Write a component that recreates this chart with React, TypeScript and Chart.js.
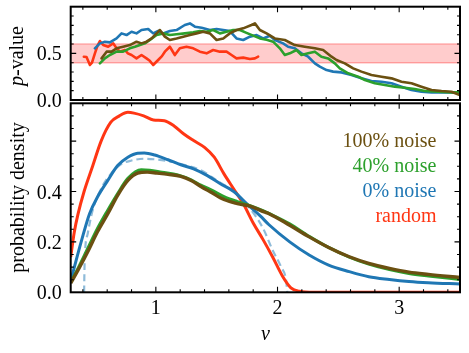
import React, { useEffect, useRef } from "react";
import { Chart, registerables } from "chart.js";

Chart.register(...registerables);

const FONT = '"Liberation Serif", "Times New Roman", serif';

// ---------- axes ----------
const NU_MIN = 0.3;
const NU_MAX = 3.5;
const PVAL_MAX = 1.0;
const DENS_MAX = 0.75;
const NU_TICK_LABELS = [1, 2, 3];
const PVAL_TICK_LABELS = [0, 0.5];
const DENS_TICK_LABELS = [0, 0.2, 0.4];
const BAND = [0.4, 0.6];
const LEGEND_LABELS = ["100% noise", "40% noise", "0% noise", "random"];

// ---------- top panel: p-value ----------
const pNuRandom = [0.408, 0.43, 0.458, 0.475, 0.499, 0.52, 0.54, 0.567, 0.608, 0.649, 0.68, 0.704, 0.745, 0.77, 0.8, 0.841, 0.882, 0.923, 0.95, 0.978, 1.019, 1.05, 1.074, 1.115, 1.156, 1.197, 1.252, 1.307, 1.362, 1.417, 1.471, 1.526, 1.581, 1.622, 1.663, 1.718, 1.773, 1.814, 1.841];
const pValRandom = [0.464, 0.46, 0.375, 0.4, 0.5, 0.58, 0.632, 0.589, 0.571, 0.607, 0.55, 0.518, 0.536, 0.5, 0.482, 0.446, 0.482, 0.446, 0.42, 0.375, 0.429, 0.47, 0.518, 0.571, 0.482, 0.554, 0.571, 0.554, 0.518, 0.5, 0.536, 0.518, 0.518, 0.482, 0.446, 0.454, 0.44, 0.446, 0.464];

const pNuZero = [0.499, 0.54, 0.581, 0.622, 0.677, 0.718, 0.759, 0.8, 0.841, 0.882, 0.937, 0.978, 1.019, 1.06, 1.115, 1.17, 1.238, 1.28, 1.321, 1.376, 1.444, 1.499, 1.554, 1.608, 1.663, 1.718, 1.773, 1.828, 1.882, 1.937, 1.978, 2.046, 2.087, 2.142, 2.197, 2.252, 2.307, 2.348, 2.403, 2.457, 2.526, 2.608, 2.69, 2.772, 2.855, 2.937, 3.019, 3.101, 3.183, 3.266, 3.348, 3.43, 3.5];
const pValZero = [0.554, 0.607, 0.625, 0.618, 0.66, 0.714, 0.696, 0.732, 0.714, 0.75, 0.761, 0.714, 0.739, 0.714, 0.739, 0.75, 0.804, 0.821, 0.786, 0.775, 0.75, 0.761, 0.75, 0.739, 0.66, 0.643, 0.679, 0.696, 0.66, 0.689, 0.643, 0.607, 0.571, 0.554, 0.5, 0.464, 0.393, 0.357, 0.321, 0.304, 0.296, 0.268, 0.232, 0.204, 0.196, 0.179, 0.143, 0.107, 0.089, 0.082, 0.082, 0.082, 0.075];

const pNuForty = [0.54, 0.581, 0.622, 0.677, 0.731, 0.786, 0.828, 0.869, 0.91, 0.951, 1.006, 1.06, 1.115, 1.17, 1.238, 1.307, 1.362, 1.417, 1.471, 1.526, 1.581, 1.636, 1.691, 1.745, 1.8, 1.855, 1.91, 1.964, 2.019, 2.06, 2.101, 2.156, 2.197, 2.252, 2.307, 2.361, 2.416, 2.471, 2.512, 2.581, 2.663, 2.718, 2.8, 2.882, 2.964, 3.046, 3.128, 3.211, 3.32, 3.43, 3.5];
const pValForty = [0.393, 0.446, 0.482, 0.518, 0.518, 0.554, 0.571, 0.589, 0.607, 0.643, 0.696, 0.714, 0.696, 0.704, 0.714, 0.725, 0.739, 0.732, 0.75, 0.714, 0.732, 0.75, 0.75, 0.72, 0.69, 0.66, 0.645, 0.625, 0.554, 0.482, 0.5, 0.536, 0.482, 0.5, 0.518, 0.464, 0.446, 0.393, 0.339, 0.286, 0.25, 0.214, 0.179, 0.161, 0.143, 0.132, 0.118, 0.096, 0.089, 0.082, 0.082];

const pNuHundred = [0.554, 0.595, 0.636, 0.677, 0.731, 0.786, 0.841, 0.882, 0.923, 0.965, 1.006, 1.033, 1.074, 1.115, 1.17, 1.225, 1.28, 1.334, 1.389, 1.444, 1.499, 1.554, 1.608, 1.663, 1.718, 1.786, 1.814, 1.855, 1.91, 1.978, 2.06, 2.142, 2.224, 2.307, 2.375, 2.444, 2.485, 2.553, 2.622, 2.69, 2.772, 2.855, 2.937, 3.019, 3.101, 3.183, 3.266, 3.348, 3.43, 3.498];
const pValHundred = [0.446, 0.518, 0.518, 0.554, 0.571, 0.589, 0.625, 0.607, 0.625, 0.66, 0.714, 0.75, 0.679, 0.643, 0.66, 0.679, 0.696, 0.714, 0.732, 0.714, 0.643, 0.66, 0.714, 0.75, 0.768, 0.804, 0.821, 0.75, 0.714, 0.66, 0.643, 0.589, 0.571, 0.554, 0.536, 0.464, 0.429, 0.393, 0.339, 0.304, 0.268, 0.25, 0.232, 0.196, 0.179, 0.143, 0.107, 0.096, 0.089, 0.054];

// ---------- bottom panel: probability density ----------
const dNuRandom = [0.3, 0.33, 0.36, 0.41, 0.48, 0.55, 0.63, 0.7, 0.77, 0.82, 0.9, 0.98, 1.07, 1.15, 1.23, 1.31, 1.4, 1.48, 1.56, 1.64, 1.72, 1.8, 1.88, 1.96, 2.04, 2.11, 2.18, 2.3, 3.5];
const dPdfRandom = [0.14, 0.24, 0.31, 0.4, 0.5, 0.6, 0.675, 0.7, 0.714, 0.711, 0.7, 0.684, 0.681, 0.66, 0.628, 0.602, 0.575, 0.536, 0.47, 0.41, 0.35, 0.275, 0.21, 0.14, 0.065, 0.018, 0.004, 0, 0];

const dNuZero = [0.3, 0.33, 0.39, 0.455, 0.52, 0.605, 0.686, 0.77, 0.85, 0.905, 0.99, 1.1, 1.205, 1.31, 1.42, 1.53, 1.64, 1.75, 1.86, 1.93, 2.1, 2.26, 2.42, 2.59, 2.75, 2.92, 3.08, 3.24, 3.5];
const dPdfZero = [0.045, 0.1, 0.207, 0.312, 0.378, 0.444, 0.503, 0.536, 0.552, 0.553, 0.545, 0.526, 0.506, 0.49, 0.464, 0.431, 0.4, 0.35, 0.302, 0.268, 0.2, 0.148, 0.108, 0.082, 0.062, 0.051, 0.043, 0.038, 0.033];

const dNuTheory = [0.41, 0.415, 0.44, 0.48, 0.55, 0.63, 0.71, 0.8, 0.905, 1.01, 1.12, 1.23, 1.37, 1.5, 1.64, 1.77, 1.88, 1.96, 2.03, 2.07, 2.08];
const dPdfTheory = [0, 0.128, 0.233, 0.325, 0.411, 0.47, 0.507, 0.523, 0.53, 0.527, 0.519, 0.506, 0.484, 0.444, 0.4, 0.335, 0.255, 0.167, 0.1, 0.049, 0];

const dNuForty = [0.3, 0.36, 0.44, 0.52, 0.6, 0.69, 0.77, 0.88, 0.95, 1.05, 1.18, 1.29, 1.37, 1.45, 1.56, 1.67, 1.78, 1.89, 1.93, 2.1, 2.26, 2.42, 2.59, 2.75, 2.92, 3.08, 3.24, 3.5];
const dPdfForty = [0.04, 0.095, 0.174, 0.253, 0.322, 0.395, 0.452, 0.486, 0.484, 0.476, 0.466, 0.446, 0.425, 0.408, 0.38, 0.36, 0.343, 0.322, 0.313, 0.272, 0.222, 0.178, 0.14, 0.112, 0.09, 0.075, 0.065, 0.051];

const dNuHundred = [0.3, 0.36, 0.44, 0.52, 0.605, 0.686, 0.77, 0.85, 0.93, 1.01, 1.1, 1.205, 1.29, 1.37, 1.45, 1.56, 1.67, 1.78, 1.89, 1.93, 2.1, 2.26, 2.42, 2.59, 2.75, 2.92, 3.08, 3.24, 3.5];
const dPdfHundred = [0.036, 0.088, 0.161, 0.24, 0.312, 0.385, 0.444, 0.473, 0.477, 0.473, 0.468, 0.46, 0.444, 0.42, 0.398, 0.368, 0.352, 0.341, 0.319, 0.312, 0.266, 0.22, 0.178, 0.141, 0.115, 0.095, 0.08, 0.071, 0.059];

// ---------- styling ----------
const C_RANDOM = "#ff3614";
const C_ZERO = "#1f77b4";
const C_FORTY = "#2ca02c";
const C_HUNDRED = "#6b5011";
const LEGEND_COLORS = [C_HUNDRED, C_FORTY, C_ZERO, C_RANDOM];

const pts = (xs: number[], ys: number[]) => xs.map((x, i) => ({ x, y: ys[i] }));

const steps = (a: number, b: number, step: number) => {
  const out: number[] = [];
  const n = Math.round((b - a) / step);
  for (let i = 0; i <= n; i++) out.push(+(a + i * step).toFixed(4));
  return out;
};

type Deco = {
  id: string;
  yMinor: number[];
  yMajor: number[];
  yLabels: number[];
  xLabels: number[];
  extra: (ctx: CanvasRenderingContext2D, a: any, chart: any) => void;
};

const X_MINOR = steps(0.4, 3.4, 0.2);
const X_MAJOR = [1, 2, 3];

function decoPlugin(d: Deco) {
  return {
    id: d.id,
    afterDraw(chart: any) {
      const ctx: CanvasRenderingContext2D = chart.ctx;
      const a = chart.chartArea;
      const xs = chart.scales.x;
      const ys = chart.scales.y;
      ctx.save();
      ctx.strokeStyle = "#000";
      ctx.lineWidth = 1.1;
      ctx.beginPath();
      const isMajorX = (v: number) => X_MAJOR.some((m) => Math.abs(m - v) < 1e-6);
      X_MINOR.forEach((v) => {
        const len = isMajorX(v) ? 5.5 : 3;
        const p = xs.getPixelForValue(v);
        ctx.moveTo(p, a.bottom);
        ctx.lineTo(p, a.bottom - len);
        ctx.moveTo(p, a.top);
        ctx.lineTo(p, a.top + len);
      });
      d.yMinor.forEach((v) => {
        const len = d.yMajor.some((m) => Math.abs(m - v) < 1e-6) ? 5.5 : 3;
        const p = ys.getPixelForValue(v);
        ctx.moveTo(a.left, p);
        ctx.lineTo(a.left + len, p);
        ctx.moveTo(a.right, p);
        ctx.lineTo(a.right - len, p);
      });
      ctx.stroke();
      ctx.lineWidth = 2;
      ctx.strokeRect(a.left, a.top, a.right - a.left, a.bottom - a.top);

      ctx.fillStyle = "#000";
      ctx.font = `20px ${FONT}`;
      ctx.textAlign = "right";
      ctx.textBaseline = "alphabetic";
      d.yLabels.forEach((v) => {
        ctx.fillText(v.toFixed(1), a.left - 9, ys.getPixelForValue(v) + 7);
      });
      ctx.textAlign = "center";
      d.xLabels.forEach((v) => {
        ctx.fillText(String(v), xs.getPixelForValue(v), a.bottom + 22);
      });
      d.extra(ctx, a, chart);
      ctx.restore();
    },
  };
}

function drawVertical(ctx: CanvasRenderingContext2D, parts: { t: string; italic?: boolean }[], x: number, y: number) {
  ctx.save();
  ctx.translate(x, y);
  ctx.rotate(-Math.PI / 2);
  ctx.textAlign = "left";
  ctx.textBaseline = "alphabetic";
  ctx.fillStyle = "#000";
  const widths = parts.map((p) => {
    ctx.font = `${p.italic ? "italic " : ""}20px ${FONT}`;
    return ctx.measureText(p.t).width;
  });
  let pos = -widths.reduce((s, w) => s + w, 0) / 2;
  parts.forEach((p, i) => {
    ctx.font = `${p.italic ? "italic " : ""}20px ${FONT}`;
    ctx.fillText(p.t, pos, 0);
    pos += widths[i];
  });
  ctx.restore();
}

const baseOptions = (padding: any, yMax: number) => ({
  animation: false as const,
  responsive: false,
  devicePixelRatio: 1,
  events: [] as any[],
  layout: { padding },
  plugins: { legend: { display: false }, tooltip: { enabled: false } },
  elements: { point: { radius: 0 } },
  scales: {
    x: { type: "linear" as const, min: NU_MIN, max: NU_MAX, display: false },
    y: { type: "linear" as const, min: 0, max: yMax, display: false },
  },
});

function topConfig(): any {
  const line = (xs: number[], ys: number[], color: string) => ({
    data: pts(xs, ys),
    borderColor: color,
    borderWidth: 2.6,
    tension: 0,
    fill: false,
    borderJoinStyle: "round",
    borderCapStyle: "round",
  });
  return {
    type: "line",
    data: {
      datasets: [
        line(pNuHundred, pValHundred, C_HUNDRED),
        line(pNuForty, pValForty, C_FORTY),
        line(pNuZero, pValZero, C_ZERO),
        line(pNuRandom, pValRandom, C_RANDOM),
        {
          data: pts([NU_MIN, NU_MAX], [BAND[1], BAND[1]]),
          borderColor: "rgba(255,120,120,0.55)",
          borderWidth: 1.6,
          backgroundColor: "rgba(255,0,0,0.2)",
          fill: "+1",
          tension: 0,
        },
        {
          data: pts([NU_MIN, NU_MAX], [BAND[0], BAND[0]]),
          borderColor: "rgba(255,120,120,0.55)",
          borderWidth: 1.6,
          fill: false,
          tension: 0,
        },
      ],
    },
    options: baseOptions({ top: 6.7, left: 70.7, right: 9, bottom: 16 }, PVAL_MAX),
    plugins: [
      decoPlugin({
        id: "decoTop",
        yMinor: steps(0.1, 0.9, 0.1),
        yMajor: [0.5],
        yLabels: PVAL_TICK_LABELS,
        xLabels: [],
        extra: (ctx) => {
          drawVertical(ctx, [{ t: "p", italic: true }, { t: "-value" }], 23, 56);
        },
      }),
    ],
  };
}

function bottomConfig(): any {
  const line = (xs: number[], ys: number[], color: string, w: number) => ({
    data: pts(xs, ys),
    borderColor: color,
    borderWidth: w,
    tension: 0.4,
    cubicInterpolationMode: "monotone",
    fill: false,
    borderJoinStyle: "round",
  });
  return {
    type: "line",
    data: {
      datasets: [
        line(dNuHundred, dPdfHundred, C_HUNDRED, 3.4),
        line(dNuForty, dPdfForty, C_FORTY, 3),
        line(dNuZero, dPdfZero, C_ZERO, 3),
        line(dNuRandom, dPdfRandom, C_RANDOM, 3),
        { ...line(dNuTheory, dPdfTheory, "rgba(31,119,180,0.5)", 2.2), borderDash: [7, 4] },
      ],
    },
    options: baseOptions({ top: 3.3, left: 70.7, right: 9, bottom: 60.7 }, DENS_MAX),
    plugins: [
      decoPlugin({
        id: "decoBottom",
        yMinor: steps(0.05, 0.7, 0.05),
        yMajor: [0.2, 0.4, 0.6],
        yLabels: DENS_TICK_LABELS,
        xLabels: NU_TICK_LABELS,
        extra: (ctx, a) => {
          drawVertical(ctx, [{ t: "probability density" }], 24, 97.5);
          ctx.font = `italic 20px ${FONT}`;
          ctx.textAlign = "center";
          ctx.fillStyle = "#000";
          ctx.fillText("ν", (a.left + a.right) / 2, a.bottom + 47.5);
          ctx.font = `20px ${FONT}`;
          ctx.textAlign = "right";
          LEGEND_LABELS.forEach((t, i) => {
            ctx.fillStyle = LEGEND_COLORS[i];
            ctx.fillText(t, 436.5, 47 + i * 25);
          });
        },
      }),
    ],
  };
}

export default function App() {
  const topRef = useRef<HTMLCanvasElement>(null);
  const botRef = useRef<HTMLCanvasElement>(null);
  useEffect(() => {
    const c2 = new Chart(botRef.current as HTMLCanvasElement, bottomConfig());
    const c1 = new Chart(topRef.current as HTMLCanvasElement, topConfig());
    return () => {
      c1.destroy();
      c2.destroy();
    };
  }, []);
  return (
    <div style={{ position: "fixed", left: 0, top: 0, width: 469, height: 353, background: "#fff", overflow: "hidden" }}>
      <canvas ref={botRef} width={469} height={253} style={{ position: "absolute", left: 0, top: 100, width: 469, height: 253 }} />
      <canvas ref={topRef} width={469} height={116} style={{ position: "absolute", left: 0, top: 0, width: 469, height: 116 }} />
    </div>
  );
}
